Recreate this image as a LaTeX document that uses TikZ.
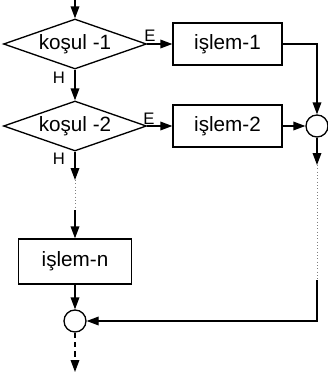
\documentclass[tikz,border=0pt]{standalone}
\usepackage{fontspec}
\setmainfont{Liberation Sans}
\usetikzlibrary{shapes.geometric,arrows.meta}

\tikzset{
  karar/.style={draw, shape=diamond, aspect=2.86, minimum width=107.25pt, minimum height=37.5pt, inner sep=0pt, font=\fontsize{15.5}{18}\selectfont},
  islemkutu/.style={draw, rectangle, minimum width=81.75pt, minimum height=31.5pt, inner sep=0pt, font=\fontsize{15.5}{18}\selectfont},
  birlesim/.style={draw, circle, minimum size=16.5pt, inner sep=0pt},
  etiket/.style={inner sep=0pt, font=\fontsize{12.5}{14}\selectfont},
  ok/.style={-{Triangle[length=9pt,width=6.5pt]}},
  noktali/.style={dotted, line width=0.5pt, gray}
}

\begin{document}
\begin{tikzpicture}[x=0.75pt,y=0.75pt,yscale=-1,xscale=1, line width=1pt]
        \useasboundingbox (0,0) rectangle (328,372);

        %Shape: Diamond
        \node[karar] (kosul1) at (75,44) {koşul -1};
        \node[karar] (kosul2) at (75,126) {koşul -2};
        %Shape: Rectangle
        \node[islemkutu] (islem1) at (227.5,44) {işlem-1};
        \node[islemkutu] (islem2) at (227.5,126) {işlem-2};
        \node[islemkutu, minimum width=84.75pt, minimum height=33.75pt] (islemn) at (75,261.5) {işlem-n};
        %Shape: Circle
        \node[birlesim] (birles1) at (317,126) {};
        \node[birlesim] (birles2) at (75,321) {};

        \coordinate (giris) at (75,0);
        \coordinate (cikis) at (75,372);
        \coordinate (hsol1) at (75,180);
        \coordinate (hsol2) at (75,210);
        \coordinate (sag1) at (317,165);
        \coordinate (sag2) at (317,280);

        %Straight Lines
        \draw[ok] (giris) -- (kosul1.north);
        \draw[ok] (kosul1.east) -- (islem1.west);
        \draw[ok] (kosul1.south) -- (kosul2.north);
        \draw[ok] (kosul2.east) -- (islem2.west);
        \draw[ok] (islem1.east) -| (birles1.north);
        \draw[ok] (islem2.east) -- (birles1.west);
        \draw[ok] (birles1.south) -- (sag1);
        \draw[noktali] (sag1) -- (sag2);
        \draw[ok] (sag2) |- (birles2.east);
        \draw[ok] (kosul2.south) -- (hsol1);
        \draw[noktali] (hsol1) -- (hsol2);
        \draw[ok] (hsol2) -- (islemn.north);
        \draw[ok] (islemn.south) -- (birles2.north);
        \draw[ok, dash pattern=on 4pt off 3pt] (birles2.south) -- (cikis);

        % Text Node
        \node[etiket] (evet1) at (150,36) {E};
        \node[etiket] (evet2) at (149,119) {E};
        \node[etiket] (hayir1) at (59,78) {H};
        \node[etiket] (hayir2) at (59,159) {H};
\end{tikzpicture}
\end{document}
